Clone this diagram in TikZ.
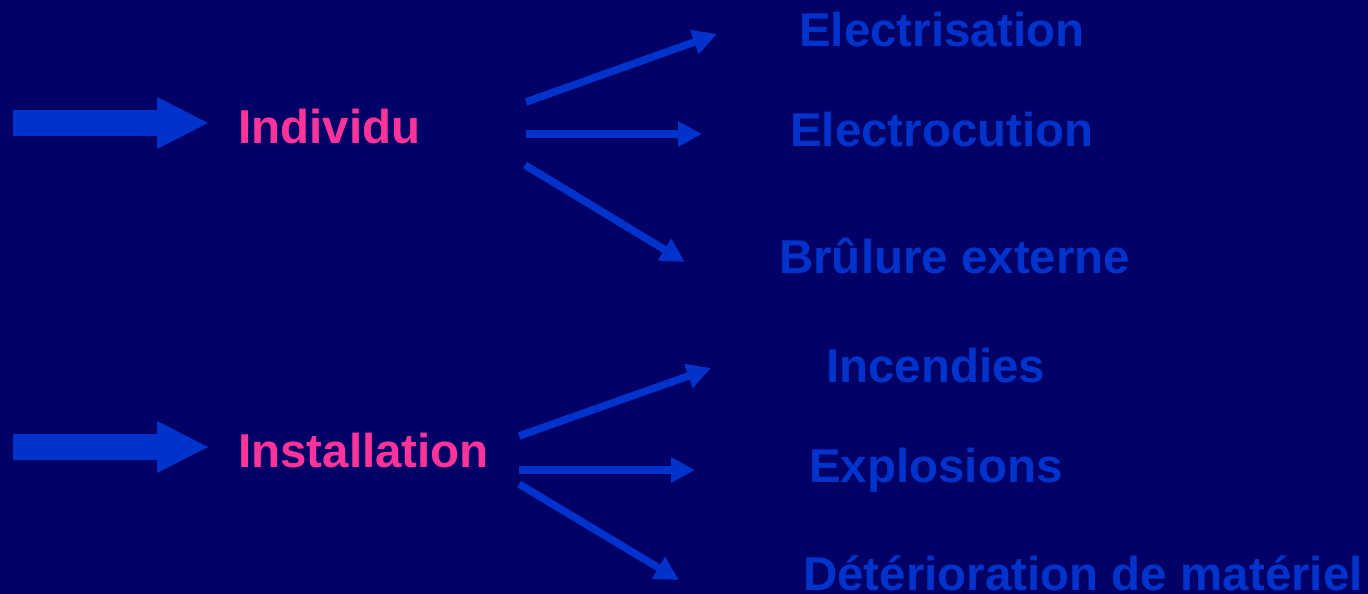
\documentclass[tikz,border=0pt]{standalone}
\usepackage{fontspec}
\setmainfont{Liberation Sans}
\usetikzlibrary{arrows.meta}
\definecolor{navy}{HTML}{000066}
\definecolor{ablue}{HTML}{0033CC}
\definecolor{apink}{HTML}{FF3399}

\begin{document}
\begin{tikzpicture}[x=1pt,y=-1pt,
  lbl/.style={anchor=base west,inner sep=0pt,font=\fontsize{47.5}{56}\selectfont\bfseries},
  cause/.style={lbl,text=apink},
  effet/.style={lbl,text=ablue},
  fleche/.style={ablue,line width=7.5pt,-{Triangle[length=24pt,width=24pt]}}]
 \fill[navy] (0,0) rectangle (1368,594);
 \useasboundingbox (0,0) rectangle (1368,594);
 % block arrows
 \fill[ablue] (13,110) -- (157,110) -- (157,97) -- (208,123) -- (157,149) -- (157,136) -- (13,136) -- cycle;
 \fill[ablue] (13,434) -- (157,434) -- (157,421) -- (208,447) -- (157,473) -- (157,460) -- (13,460) -- cycle;
 % causes
 \node[cause] (indiv) at (238,143) {Individu};
 \node[cause] (instal) at (238,467) {Installation};
 % effects
 \node[effet] (elec) at (799,47) {Electrisation};
 \node[effet] (ecut) at (790,146) {Electrocution};
 \node[effet] (brul) at (779,273) {Brûlure externe};
 \node[effet] (incd) at (826,382) {Incendies};
 \node[effet] (expl) at (809,482) {Explosions};
 \node[effet] (dete) at (803,590) {Détérioration de matériel};
 % arrow ends
 \coordinate (s1) at (526,102); \coordinate (t1) at (717,34);
 \coordinate (s2) at (526,134); \coordinate (t2) at (702,134);
 \coordinate (s3) at (525,165); \coordinate (t3) at (685,262);
 \coordinate (s4) at (519,436); \coordinate (t4) at (711,368);
 \coordinate (s5) at (519,470); \coordinate (t5) at (695,470);
 \coordinate (s6) at (519,484); \coordinate (t6) at (679,580);
 \draw[fleche] (s1) -- (t1);
 \draw[fleche] (s2) -- (t2);
 \draw[fleche] (s3) -- (t3);
 \draw[fleche] (s4) -- (t4);
 \draw[fleche] (s5) -- (t5);
 \draw[fleche] (s6) -- (t6);
\end{tikzpicture}
\end{document}
